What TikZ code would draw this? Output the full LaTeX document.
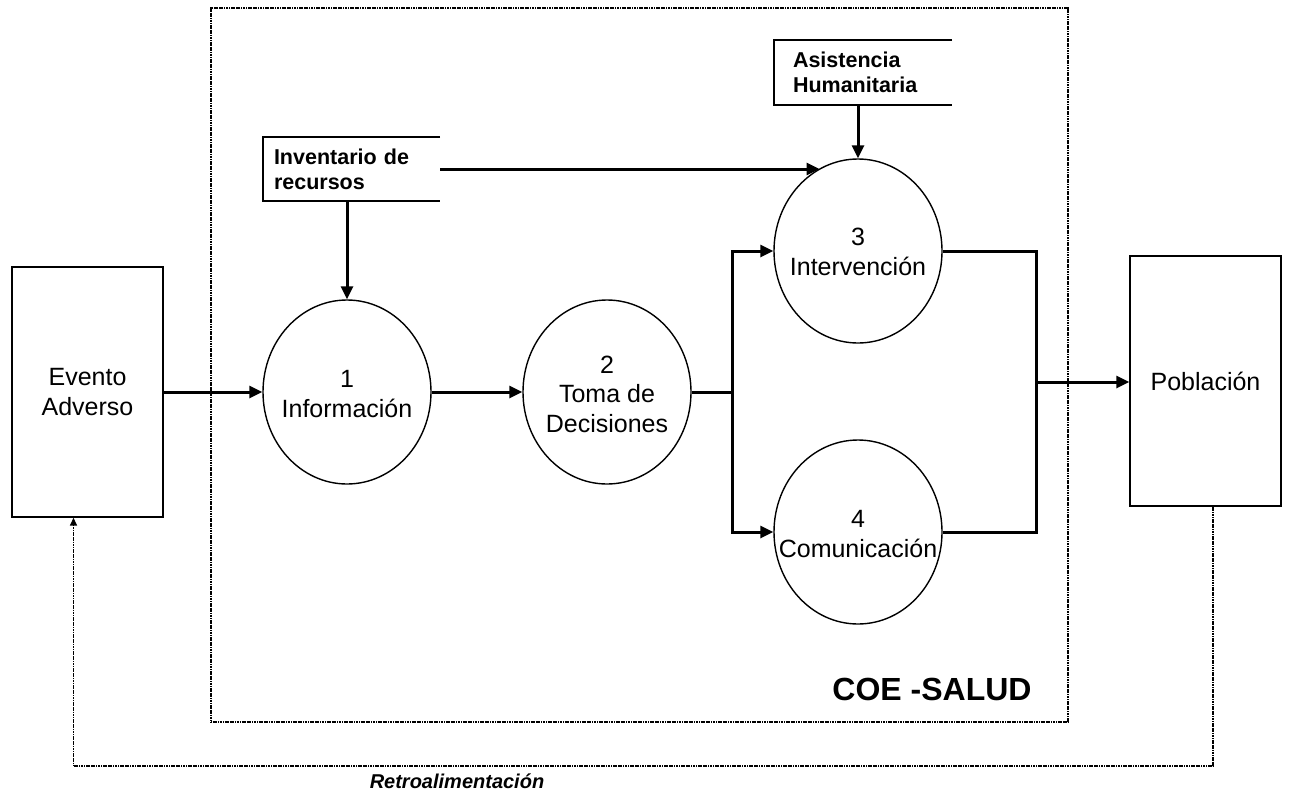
\documentclass[tikz,border=0pt]{standalone}
\usepackage{fontspec}
\setmainfont{Liberation Sans}
\usetikzlibrary{shapes.geometric,arrows.meta}
\begin{document}
\begin{tikzpicture}[x=1pt,y=-1pt,
  proc/.style={ellipse, draw, line width=1.4pt, minimum width=168pt, minimum height=184pt, inner sep=0pt},
  ext/.style={rectangle, draw, line width=1.4pt, inner sep=0pt, align=center, font=\fontsize{25}{30}\selectfont},
  lbl/.style={font=\fontsize{25}{29.5}\selectfont, align=center, inner sep=0pt},
  store/.style={font=\bfseries\fontsize{21.5}{25}\selectfont, align=left, inner ysep=0pt},
  flow/.style={line width=3pt, -{Triangle[length=13pt,width=12pt]}},
  plain/.style={line width=3pt},
  dots/.style={line width=1.5pt, dash pattern=on 1.2pt off 0.5pt},
  storeline/.style={line width=2.2pt}]
\useasboundingbox (0,0) rectangle (1289,798);
% COE frame
\node[draw, dots, inner sep=0pt, minimum width=857pt, minimum height=714pt] (coe) at (639.5,365) {};
\node[font=\bfseries\fontsize{32}{38}\selectfont, inner sep=0pt] (coelbl) at (932,689) {COE -SALUD};
% external entities
\node[ext, minimum width=151pt, minimum height=250pt] (ev) at (87.5,392) {Evento\\Adverso};
\node[ext, minimum width=151pt, minimum height=250pt] (pob) at (1205.5,381) {Población};
% processes
\node[proc] (c1) at (347,392) {};
\node[proc] (c2) at (607,392) {};
\node[proc] (c3) at (858,251) {};
\node[proc] (c4) at (858,532) {};
\node[lbl] (t1) at (347,394) {1\\Información};
\node[lbl] (t2) at (607,394) {2\\Toma de\\Decisiones};
\node[lbl] (t3) at (858,252) {3\\Intervención};
\node[lbl] (t4) at (858,534) {4\\Comunicación};
% data stores
\node[store, minimum height=64pt, text width=155pt, inner xsep=11pt] (inv) at (351.5,169) {Inventario de\\recursos};
\draw[storeline] (inv.north east) -- (inv.north west) -- (inv.south west) -- (inv.south east);
\node[store, minimum height=65pt, text width=140pt, inner xsep=19pt] (asi) at (863,72.5) {Asistencia\\Humanitaria};
\draw[storeline] (asi.north east) -- (asi.north west) -- (asi.south west) -- (asi.south east);
% flows
\draw[flow] (inv.south -| c1.north) -- (c1.north);
\draw[flow] (inv.east) -- (c3.115 |- inv.east);
\draw[flow] (asi.south -| c3.north) -- (c3.north);
\draw[flow] (ev.east) -- (c1.west);
\draw[flow] (c1.east) -- (c2.west);
\coordinate (b1) at (732,392);
\draw[plain] (c2.east) -- (b1);
\draw[flow] (b1) |- (c3.west);
\draw[flow] (b1) |- (c4.west);
\coordinate (m1) at (1036,382);
\draw[plain] (c3.east) -| (m1);
\draw[plain] (c4.east) -| (m1);
\draw[flow] (m1) -- (pob.west |- m1);
% feedback
\coordinate (fb) at (640,766);
\draw[dots, -{Triangle[length=8pt,width=7pt]}] ([xshift=7.5pt]pob.south) |- (fb) -| ([xshift=-14pt]ev.south);
\node[font=\bfseries\itshape\fontsize{20}{24}\selectfont, inner sep=0pt] (retro) at (457,781) {Retroalimentación};
\end{tikzpicture}
\end{document}
